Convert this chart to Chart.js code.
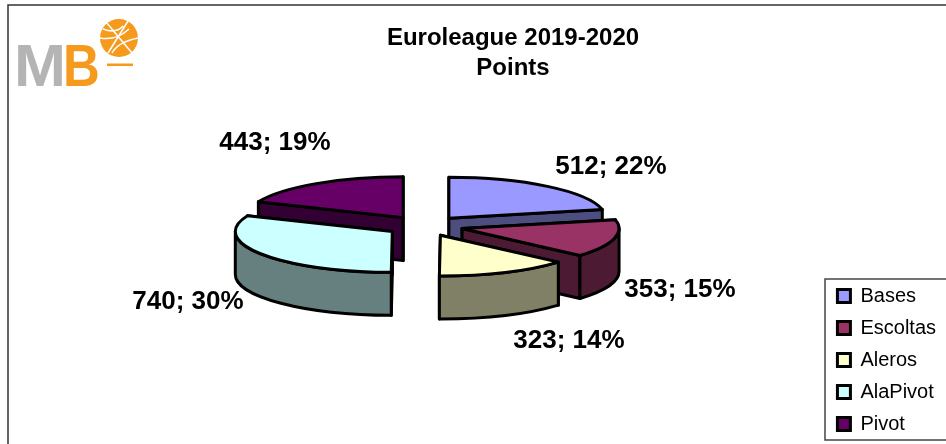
<!DOCTYPE html>
<html><head><meta charset="utf-8">
<script src="https://cdn.jsdelivr.net/npm/chart.js@4"></script>
<style>html,body{margin:0;padding:0;background:#fff;overflow:hidden}#w{position:relative;width:946px;height:444px}</style>
</head><body><div id="w"><canvas id="c" width="946" height="444"></canvas></div>
<script>
const categories = ['Bases','Escoltas','Aleros','AlaPivot','Pivot'];
const points = [512,353,323,740,443];
const percents = [22,15,14,30,19];
const colours = ['#9999FF','#993366','#FFFFCC','#CCFFFF','#660066'];
const titleLines = ['Euroleague 2019-2020','Points'];

// layout of the squashed pie
const pieCx = 424.6, pieCy = 226, squash = 0.26, depth = 43, explode = 38.7;
const paintOrder = [4,0,1,3,2];
const labelCentres = [[611,167],[680,290],[569,341],[188,302],[275,143]];

function half(hex){
  const n=parseInt(hex.slice(1),16);
  const f=v=>Math.round(v/2);
  return `rgb(${f(n>>16&255)},${f(n>>8&255)},${f(n&255)})`;
}

const pie3d = {
  id:'pie3d',
  beforeDatasetsDraw(chart){
    const ctx=chart.ctx, arcs=chart.getDatasetMeta(0).data;
    ctx.save();
    ctx.lineJoin='round';
    ctx.strokeStyle='#000';
    for(const i of paintOrder){
      const a=arcs[i], r=a.outerRadius, s=a.startAngle, e=a.endAngle, mid=(s+e)/2;
      const ax=pieCx+Math.cos(mid)*explode, ay=pieCy+Math.sin(mid)*explode*squash;
      const px=t=>ax+Math.cos(t)*r, py=t=>ay+Math.sin(t)*r*squash;
      const col=a.options.backgroundColor, dark=half(col);
      ctx.lineWidth=a.options.borderWidth;
      const finish=c=>{ctx.closePath();ctx.fillStyle=c;ctx.fill();ctx.stroke();};
      for(const t of [s,e]){
        ctx.beginPath();
        ctx.moveTo(ax,ay);ctx.lineTo(px(t),py(t));ctx.lineTo(px(t),py(t)+depth);ctx.lineTo(ax,ay+depth);
        finish(dark);
      }
      // visible outer wall: the part of the rim on the near side of the pie
      let w0=s, w1=e;
      if(w0>Math.PI){w0-=2*Math.PI;w1-=2*Math.PI;}
      w0=Math.max(w0,0); w1=Math.min(w1,Math.PI);
      if(w1>w0){
        ctx.beginPath();
        ctx.ellipse(ax,ay,r,r*squash,0,w0,w1);
        ctx.ellipse(ax,ay+depth,r,r*squash,0,w1,w0,true);
        finish(dark);
      }
      ctx.beginPath();
      ctx.moveTo(ax,ay);
      ctx.ellipse(ax,ay,r,r*squash,0,s,e);
      finish(col);
    }
    ctx.restore();
    return false;
  },
  beforeDraw(chart){
    const ctx=chart.ctx;
    ctx.save();
    ctx.fillStyle='#fff';ctx.fillRect(0,0,946,444);
    ctx.strokeStyle='#333';ctx.lineWidth=1.5;
    ctx.strokeRect(8,5,1000,1000);
    // logo
    ctx.filter='blur(0.5px)';
    ctx.textBaseline='alphabetic';
    ctx.font='bold 60px "Liberation Sans"';
    ctx.fillStyle='#b4b4b4';ctx.save();ctx.translate(14,86);ctx.scale(1.04,1);ctx.fillText('M',0,0);ctx.restore();
    ctx.fillStyle='#f59a1c';ctx.save();ctx.translate(63,86);ctx.scale(0.85,1);ctx.fillText('B',0,0);ctx.restore();
    ctx.beginPath();ctx.arc(119,38,19,0,2*Math.PI);ctx.fill();
    ctx.fillRect(107,63.5,26,2.5);
    ctx.strokeStyle='#fff';ctx.lineWidth=1.5;
    ctx.beginPath();ctx.moveTo(106,22);ctx.lineTo(132,53);ctx.moveTo(128,21);ctx.lineTo(108,53);
    ctx.moveTo(103,29);ctx.quadraticCurveTo(116,34,123,26);
    ctx.moveTo(100,38);ctx.quadraticCurveTo(116,41,129,29);
    ctx.moveTo(112,53);ctx.quadraticCurveTo(118,42,138,38);
    ctx.stroke();
    ctx.restore();
  },
  afterDraw(chart){
    const ctx=chart.ctx;
    ctx.save();
    ctx.fillStyle='#000';ctx.font='bold 26px "Liberation Sans"';
    ctx.textAlign='center';ctx.textBaseline='middle';
    points.forEach((v,i)=>ctx.fillText(`${v}; ${percents[i]}%`,labelCentres[i][0],labelCentres[i][1]));
    ctx.strokeStyle='#444';ctx.lineWidth=1.5;
    ctx.strokeRect(825,279,200,161);
    ctx.restore();
  }
};

new Chart(document.getElementById('c'),{
  type:'pie',
  data:{labels:categories,datasets:[{data:points,backgroundColor:colours,borderColor:'#000',borderWidth:3,offset:explode}]},
  options:{
    responsive:false,animation:false,
    radius:157,
    layout:{padding:{left:80,top:23,right:0,bottom:-2}},
    plugins:{
      title:{display:true,text:titleLines,color:'#000',font:{family:'Liberation Sans',weight:'bold',size:24,lineHeight:1.25},padding:0},
      legend:{position:'right',align:'end',
        labels:{color:'#000',font:{family:'Liberation Sans',size:20},boxWidth:13,boxHeight:13,padding:12}},
      tooltip:{enabled:false}
    }
  },
  plugins:[pie3d]
});
</script></body></html>
